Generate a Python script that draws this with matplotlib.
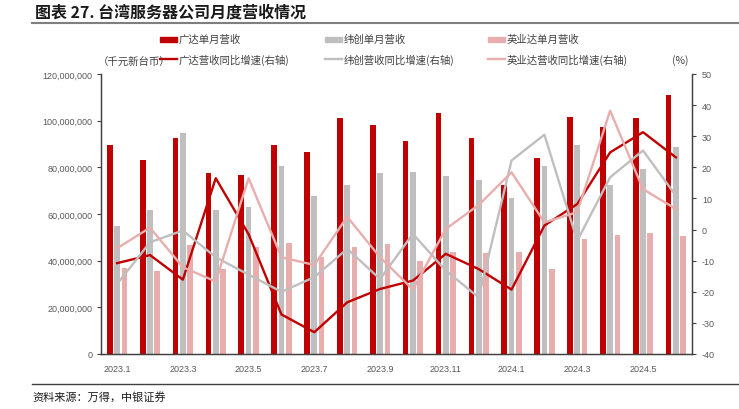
import matplotlib
matplotlib.use("Agg")
import matplotlib.pyplot as plt
from matplotlib.patches import Rectangle
from matplotlib.lines import Line2D

plt.rcParams['font.family'] = ['Noto Sans CJK SC', 'DejaVu Sans']

# monthly data, 2023.1 - 2024.6
months = ["2023.1", "2023.2", "2023.3", "2023.4", "2023.5", "2023.6",
          "2023.7", "2023.8", "2023.9", "2023.10", "2023.11", "2023.12",
          "2024.1", "2024.2", "2024.3", "2024.4", "2024.5", "2024.6"]

# 单月营收 (千元新台币)
quanta_rev = [89.6e6, 83.0e6, 92.4e6, 77.6e6, 76.6e6, 89.7e6,
              86.6e6, 101.0e6, 98.0e6, 91.1e6, 103.3e6, 92.6e6,
              72.6e6, 84.0e6, 101.4e6, 97.1e6, 101.0e6, 111.1e6]
wistron_rev = [54.7e6, 61.8e6, 94.7e6, 61.8e6, 63.0e6, 80.7e6,
               67.6e6, 72.4e6, 77.6e6, 78.1e6, 76.1e6, 74.6e6,
               67.0e6, 80.7e6, 89.6e6, 72.4e6, 79.4e6, 88.6e6]
inventec_rev = [36.7e6, 35.6e6, 46.9e6, 36.4e6, 45.7e6, 47.4e6,
                41.4e6, 46.0e6, 47.1e6, 40.0e6, 43.7e6, 43.3e6,
                43.9e6, 36.4e6, 49.4e6, 50.9e6, 51.9e6, 50.6e6]

# 营收同比增速 (%)
quanta_yoy = [-10.8, -8.2, -16.1, 16.5, -1.5, -27.3, -33.0, -23.4, -19.1,
              -16.4, -7.8, -12.7, -19.3, 1.3, 8.2, 24.8, 31.3, 23.2]
wistron_yoy = [-17.5, -4.1, -0.3, -8.9, -14.5, -20.0, -15.3, -6.2, -15.9,
               -1.4, -13.2, -21.8, 22.2, 30.5, -3.6, 16.8, 25.4, 10.9]
inventec_yoy = [-6.0, 0.6, -12.1, -16.7, 16.5, -8.9, -11.4, 4.1, -8.9,
                -19.3, 0.2, 7.9, 18.4, 2.3, 5.6, 38.2, 13.0, 6.6]

names_rev = ["广达单月营收", "纬创单月营收", "英业达单月营收"]
names_yoy = ["广达营收同比增速(右轴)", "纬创营收同比增速(右轴)", "英业达营收同比增速(右轴)"]

red = "#C00000"
grey = "#BFBFBF"
pink = "#E8AEAE"
tick_col = "#595959"
tick_font = dict(family="Liberation Sans", size=6.5, color=tick_col)

fig = plt.figure(figsize=(7.39, 4.10), dpi=100)
ax = fig.add_axes([100.7/739, 1-355/410, (692.3-100.7)/739, 280/410])
ax2 = ax.twinx()

x = list(range(len(months)))
w = 0.173
off = 0.222
ax.bar([i - off for i in x], quanta_rev, w, color=red, zorder=2)
ax.bar(x, wistron_rev, w, color=grey, zorder=2)
ax.bar([i + off for i in x], inventec_rev, w, color=pink, zorder=2)

ax2.plot(x, quanta_yoy, color=red, lw=1.7, zorder=3)
ax2.plot(x, wistron_yoy, color=grey, lw=1.7, zorder=3)
ax2.plot(x, inventec_yoy, color=pink, lw=1.7, zorder=3)

ax.set_xlim(-0.5, len(months) - 0.5)
ax.set_ylim(0, 120e6)
ax2.set_ylim(-40, 50)
ax.set_yticks([i * 20e6 for i in range(7)])
ax.set_yticklabels(["{:,}".format(i * 20000000) for i in range(7)], **tick_font)
ax2.set_yticks(range(-40, 51, 10))
ax2.set_yticklabels([str(v) for v in range(-40, 51, 10)], **tick_font)
ax.set_xticks(x[::2])
ax.set_xticklabels(months[::2], **tick_font)

for a in (ax, ax2):
    a.spines['top'].set_visible(False)
    for s in ['left', 'right', 'bottom']:
        a.spines[s].set_color("#404040")
        a.spines[s].set_linewidth(0.9)
    a.patch.set_visible(False)
ax.tick_params(axis='x', length=0, pad=7)
ax.tick_params(axis='y', length=3, width=0.8, color="#404040", pad=3)
ax2.tick_params(axis='y', length=3, width=0.8, color="#404040", pad=4)

# title and rules
fig.text(35/739, 1-13/410, "图表 27. 台湾服务器公司月度营收情况", fontsize=11.5,
         fontweight='bold', va='center', ha='left', color="#1a1a1a")
fig.add_artist(Line2D([32/739, 1.0], [1-24/410, 1-24/410], color="#7f7f7f", lw=1.5))
fig.add_artist(Line2D([32/739, 1.0], [1-385/410, 1-385/410], color="#404040", lw=1.0))
fig.text(32/739, 1-397/410, "资料来源：万得，中银证券", fontsize=8, va='center',
         ha='left', color="#1a1a1a", style='italic')

# legend, drawn by hand
cols = [160, 325, 488]
colors = [red, grey, pink]
leg_font = dict(fontsize=7.5, color="#404040", va='center', ha='left')
for c, col, n1, n2 in zip(cols, colors, names_rev, names_yoy):
    fig.add_artist(Rectangle((c/739, 1-43/410), 17/739, 5/410, color=col,
                             transform=fig.transFigure))
    fig.text((c+19)/739, 1-40/410, n1, **leg_font)
    fig.add_artist(Line2D([c/739, (c+17)/739], [1-60/410, 1-60/410], color=col, lw=1.7))
    fig.text((c+19)/739, 1-60/410, n2, **leg_font)

fig.text(98/739, 1-62/410, "（千元新台币）", fontsize=7.5, color="#404040",
         va='center', ha='left')
fig.text(680/739, 1-61/410, "(%)", fontsize=7.5, color="#404040",
         va='center', ha='center')

fig.savefig("out.png", dpi=100)
